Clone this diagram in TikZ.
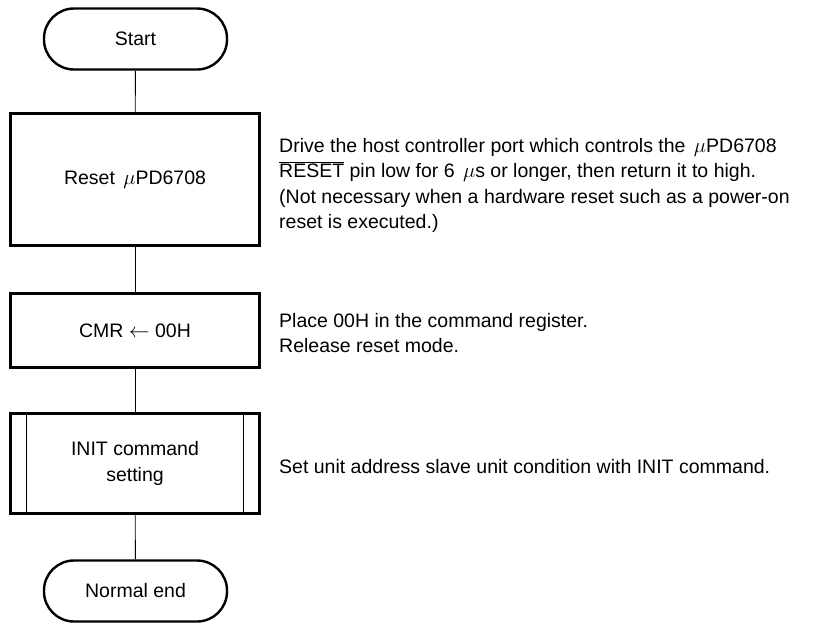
\documentclass[tikz,border=0pt]{standalone}
\usepackage{fontspec}
\setmainfont{Liberation Sans}
\begin{document}
\begin{tikzpicture}[x=1pt,y=-1pt,
  every node/.style={font=\fontsize{19.5}{25.5}\selectfont},
  term/.style={draw,line width=2.4pt,rounded corners=30pt,minimum width=183pt,minimum height=61pt,inner sep=0pt},
  proc/.style={draw,line width=2.4pt,minimum width=249pt,inner sep=0pt,align=center},
  conn/.style={line width=0.9pt},
  desc/.style={anchor=base west,inner sep=0pt}]
\useasboundingbox (0,0) rectangle (839,625);
\node[term] (start) at (135.5,39) {Start};
\node[proc,minimum height=132pt] (reset) at (135,179.5) {Reset \hspace{0.15em}$\mu$PD6708};
\node[proc,minimum height=74pt] (cmr) at (135,330.5) {CMR $\leftarrow$ 00H};
\node[proc,minimum height=100pt] (init) at (135,463.5) {INIT command\\setting};
\node[term] (end) at (135.5,591) {Normal end};
\draw[conn] ([xshift=17pt]init.north west) -- ([xshift=17pt]init.south west);
\draw[conn] ([xshift=-17pt]init.north east) -- ([xshift=-17pt]init.south east);
\draw[conn] (start) -- (reset);
\draw[conn] (reset) -- (cmr);
\draw[conn] (cmr) -- (init);
\draw[conn] (init) -- (end);
\node[desc] (d1) at (279,152) {Drive the host controller port which controls the \hspace{0.15em}$\mu$PD6708};
\node[desc] (d2) at (279,177.5) {$\overline{\hbox{RESET}}$ pin low for 6 \hspace{0.15em}$\mu$s or longer, then return it to high.};
\node[desc] (d3) at (279,203) {(Not necessary when a hardware reset such as a power-on};
\node[desc] (d4) at (279,228.5) {reset is executed.)};
\node[desc] (c1) at (279,327) {Place 00H in the command register.};
\node[desc] (c2) at (279,352.5) {Release reset mode.};
\node[desc] (i1) at (279,473) {Set unit address slave unit condition with INIT command.};
\end{tikzpicture}
\end{document}
